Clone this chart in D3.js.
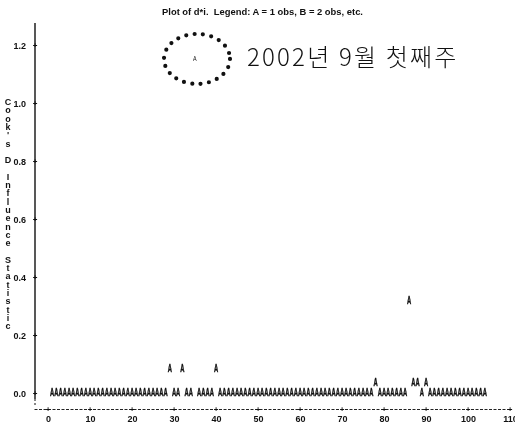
<!DOCTYPE html>
<html>
<head>
<meta charset="utf-8">
<script src="https://cdn.jsdelivr.net/npm/d3@7"></script>
<style>
  html, body { margin: 0; padding: 0; background: #fff; }
  svg { display: block; filter: grayscale(100%); }
  .lp { font-family: "Liberation Sans Narrow", "Arial Narrow", "Liberation Sans", sans-serif; fill: #111; }
</style>
</head>
<body>
<svg id="chart" width="515" height="428"></svg>
<script>
// Cook's D influence statistic by observation number (line-printer style plot)
const titleText = "Plot of d*i.  Legend: A = 1 obs, B = 2 obs, etc.";
const yLabel = "Cook's D Influence Statistic";
const annotation = "2002년 9월 첫째주";

const xTicks = [0, 10, 20, 30, 40, 50, 60, 70, 80, 90, 100, 110];
const yTicks = [0.0, 0.2, 0.4, 0.6, 0.8, 1.0, 1.2];

// observation numbers 1..104
const obs = d3.range(1, 105);
const cooksD = [
  0.003, 0.003, 0.003, 0.003, 0.003, 0.003, 0.003, 0.003, 0.003, 0.003, // 1-10
  0.003, 0.003, 0.003, 0.003, 0.003, 0.003, 0.003, 0.003, 0.003, 0.003, // 11-20
  0.003, 0.003, 0.003, 0.003, 0.003, 0.003, 0.003, 0.003, 0.085, 0.003, // 21-30
  0.003, 0.085, 0.003, 0.003, 1.152, 0.003, 0.003, 0.003, 0.003, 0.085, // 31-40
  0.003, 0.003, 0.003, 0.003, 0.003, 0.003, 0.003, 0.003, 0.003, 0.003, // 41-50
  0.003, 0.003, 0.003, 0.003, 0.003, 0.003, 0.003, 0.003, 0.003, 0.003, // 51-60
  0.003, 0.003, 0.003, 0.003, 0.003, 0.003, 0.003, 0.003, 0.003, 0.003, // 61-70
  0.003, 0.003, 0.003, 0.003, 0.003, 0.003, 0.003, 0.037, 0.003, 0.003, // 71-80
  0.003, 0.003, 0.003, 0.003, 0.003, 0.320, 0.037, 0.037, 0.003, 0.037, // 81-90
  0.003, 0.003, 0.003, 0.003, 0.003, 0.003, 0.003, 0.003, 0.003, 0.003, // 91-100
  0.003, 0.003, 0.003, 0.003                                            // 101-104
];
// the week's outlier that is ringed on the plot
const highlightObs = [35];

const data = obs.map((o, i) => ({ obs: o, d: cooksD[i] }));

const svg = d3.select("#chart");
const x = d3.scaleLinear().domain([-3.33, 110]).range([34, 510]);
const y = d3.scaleLinear().domain([0, 1.2]).range([393, 45]);

// title
svg.append("text").attr("class", "lp")
  .attr("x", 162).attr("y", 15)
  .attr("font-size", 8.5).attr("font-weight", "bold")
  .attr("textLength", 201).attr("lengthAdjust", "spacingAndGlyphs")
  .attr("xml:space", "preserve")
  .text(titleText);

// vertical axis label, one upright character per row
const chars = Array.from(yLabel);
svg.append("g").selectAll("text").data(chars).join("text")
  .attr("class", "lp")
  .attr("x", 8)
  .attr("y", (c, i) => 105 + i * 8.3)
  .attr("text-anchor", "middle")
  .attr("font-size", 9).attr("font-weight", "bold")
  .text(c => c);

// y axis
const yAxis = d3.axisLeft(y).tickValues(yTicks).tickFormat(d3.format(".1f")).tickSize(0).tickPadding(9);
const gy = svg.append("g").attr("transform", "translate(35,0)").call(yAxis);
gy.select(".domain").remove();
gy.selectAll("text").attr("class", "lp").attr("font-size", 9).attr("font-weight", "bold")
  .attr("dy", "0.35em").style("font-family", null);
svg.append("line").attr("x1", 35).attr("x2", 35).attr("y1", 23).attr("y2", 399)
  .attr("stroke", "#111").attr("stroke-width", 1.4);
svg.append("line").attr("x1", 35).attr("x2", 35).attr("y1", 399).attr("y2", 406)
  .attr("stroke", "#111").attr("stroke-width", 1).attr("stroke-dasharray", "2,2");
svg.append("g").selectAll("text").data(yTicks).join("text")
  .attr("class", "lp").attr("x", 35).attr("y", d => y(d))
  .attr("dy", "0.35em").attr("text-anchor", "middle")
  .attr("font-size", 8).attr("font-weight", "bold").text("+");

// x axis (dashed line with + marks)
const xAxis = d3.axisBottom(x).tickValues(xTicks).tickFormat(d3.format("d")).tickSize(0).tickPadding(7);
const gx = svg.append("g").attr("transform", "translate(0,409)").call(xAxis);
gx.select(".domain").attr("stroke", "#222").attr("stroke-dasharray", "3,1.5").attr("stroke-width", 1);
gx.selectAll("text").attr("class", "lp").attr("font-size", 9).attr("font-weight", "bold")
  .style("font-family", null);
svg.append("g").selectAll("text").data(xTicks).join("text")
  .attr("class", "lp").attr("x", d => x(d)).attr("y", 409)
  .attr("dy", "0.35em").attr("text-anchor", "middle")
  .attr("font-size", 8).attr("font-weight", "bold").text("+");

// plotted observations, one condensed "A" per observation
svg.append("g").selectAll("text").data(data).join("text")
  .attr("class", "lp")
  .attr("x", d => x(d.obs) - 2.1)
  .attr("y", d => y(d.d))
  .attr("dy", "0.35em")
  .attr("font-size", d => highlightObs.includes(d.obs) ? 7 : 10)
  .attr("font-weight", d => highlightObs.includes(d.obs) ? "normal" : "bold")
  .attr("stroke", d => highlightObs.includes(d.obs) ? "none" : "#111")
  .attr("stroke-width", 0.45)
  .attr("textLength", d => highlightObs.includes(d.obs) ? 3.6 : 4.2)
  .attr("lengthAdjust", "spacingAndGlyphs")
  .text("A");

// dotted ring around the outlier
const hi = data.filter(d => highlightObs.includes(d.obs));
svg.append("g").selectAll("ellipse").data(hi).join("ellipse")
  .attr("cx", d => x(d.obs) + 2).attr("cy", d => y(d.d))
  .attr("rx", 33).attr("ry", 25)
  .attr("fill", "none").attr("stroke", "#111")
  .attr("stroke-width", 4.2).attr("stroke-linecap", "round")
  .attr("stroke-dasharray", "0,8.4");

// annotation
svg.append("text")
  .attr("x", 247).attr("y", 66)
  .attr("font-family", "'Noto Sans CJK KR', sans-serif")
  .attr("font-size", 24)
  .attr("font-weight", 300)
  .attr("letter-spacing", 2.2)
  .attr("fill", "#111")
  .text(annotation);
</script>
</body>
</html>
